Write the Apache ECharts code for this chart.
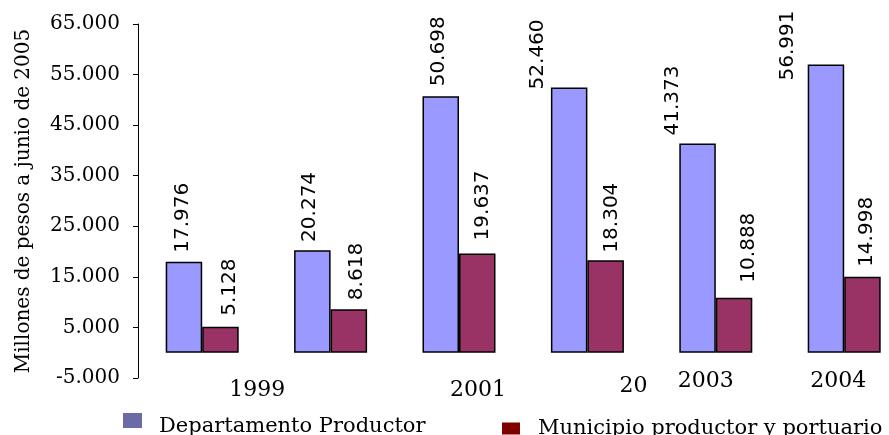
<!DOCTYPE html>
<html>
<head>
<meta charset="utf-8">
<script src="https://cdn.jsdelivr.net/npm/echarts@6/dist/echarts.min.js"></script>
<style>
  html, body { margin: 0; padding: 0; background: #fff; }
  #chart { width: 889px; height: 435px; }
</style>
</head>
<body>
<div id="chart"></div>
<script>
// ---- data ----
const categories = ['1999', '2000', '2001', '2002', '2003', '2004'];
const xTickLabels = ['1999', '', '2001', '20', '2003', '2004'];
const seriesNames = ['Departamento Productor', 'Municipio productor y portuario'];
const departamento = [17976, 20274, 50698, 52460, 41373, 56991];
const municipio = [5128, 8618, 19637, 18304, 10888, 14998];
const yMin = -5000, yMax = 65000, yStep = 10000;
const yAxisTitle = 'Millones de pesos a junio de 2005';

// ---- layout tweaks (not data): screen offsets [dx, dy] ----
const xLabelShift = [[55, 9], [0, 0], [19, 9], [46, 5], [-10, 0], [-6, 0]];
const depLabelOffset = [[-1.5, 1], [-2.5, 1.7], [-2, 0], [-31, 12], [-24.5, 2], [-38.5, 26]];
const munLabelOffset = [[9.5, -1], [7.5, 1], [6, -3], [6.5, 2.5], [15, -5], [4.5, 0]];

function fmt(v) {
  const s = Math.abs(v).toString().replace(/\B(?=(\d{3})+(?!\d))/g, '.');
  return (v < 0 ? '-' : '') + s;
}

const rich = {};
xLabelShift.forEach((s, i) => {
  const dx = s[0], dy = s[1];
  rich['l' + i] = {
    fontFamily: 'DejaVu Serif', fontSize: 22, color: '#000',
    padding: [dy, dx < 0 ? -2 * dx : 0, 0, dx > 0 ? 2 * dx : 0]
  };
});

// label is rotated 90deg, so its offset is in rotated coordinates: [-dy, dx]
function barData(vals, offs) {
  return vals.map((v, i) => ({ value: v, label: { offset: [-offs[i][1], offs[i][0]] } }));
}

const labelBase = {
  show: true, position: 'top', rotate: 90, align: 'left', verticalAlign: 'middle',
  distance: 10, fontFamily: 'DejaVu Sans', fontSize: 20, color: '#000',
  formatter: p => fmt(p.value)
};

const chart = echarts.init(document.getElementById('chart'), null, { renderer: 'canvas' });
chart.setOption({
  animation: false,
  backgroundColor: '#fff',
  grid: { left: 138, width: 770.4, top: 24, height: 354, containLabel: false, outerBoundsMode: 'none' },
  legend: [
    // blue marker only
    {
      left: 123, top: 413, padding: 0, itemWidth: 19, itemHeight: 15, icon: 'rect',
      data: [{ name: seriesNames[0], itemStyle: { color: '#6B6BA8', borderWidth: 0 } }],
      formatter: () => '',
      textStyle: { fontSize: 1, lineHeight: 1 }
    },
    // blue text only
    {
      left: 154, top: 416, padding: 0, itemWidth: 0, itemHeight: 1, icon: 'rect',
      data: [{ name: seriesNames[0], itemStyle: { opacity: 0, borderWidth: 0 } }],
      textStyle: { fontFamily: 'DejaVu Serif', fontSize: 21, color: '#000' }
    },
    {
      left: 502, top: 418, padding: 0, itemWidth: 18, itemHeight: 12, icon: 'rect',
      data: [{ name: seriesNames[1], itemStyle: { color: '#800000', borderWidth: 0 } }],
      textStyle: { fontFamily: 'DejaVu Serif', fontSize: 21, color: '#000', padding: [0, 0, 4, 13] }
    }
  ],
  xAxis: {
    type: 'category', data: categories,
    axisLine: { show: false, onZero: false },
    axisTick: { show: false },
    splitLine: { show: false },
    axisLabel: {
      interval: 0, margin: -8, hideOverlap: false,
      formatter: (v, i) => '{l' + i + '|' + xTickLabels[i] + '}',
      rich: rich
    }
  },
  yAxis: {
    type: 'value', min: yMin, max: yMax, interval: yStep,
    name: yAxisTitle, nameLocation: 'middle', nameGap: 104, nameRotate: 90,
    nameTextStyle: { fontFamily: 'DejaVu Serif', fontSize: 20, color: '#000' },
    axisLine: { show: true, lineStyle: { color: '#000', width: 1 } },
    axisTick: { show: true, length: 5, lineStyle: { color: '#000' } },
    splitLine: { show: false },
    axisLabel: { margin: 18, fontFamily: 'DejaVu Serif', fontSize: 20, color: '#000', formatter: fmt }
  },
  series: [
    {
      name: seriesNames[0], type: 'bar', barWidth: 36.5, barGap: '0%',
      itemStyle: { color: '#9999FF', borderColor: '#000', borderWidth: 1.5 },
      label: labelBase,
      data: barData(departamento, depLabelOffset)
    },
    {
      name: seriesNames[1], type: 'bar', barWidth: 36.5, barGap: '0%',
      itemStyle: { color: '#993366', borderColor: '#000', borderWidth: 1.5 },
      label: labelBase,
      data: barData(municipio, munLabelOffset)
    }
  ]
});
</script>
</body>
</html>
